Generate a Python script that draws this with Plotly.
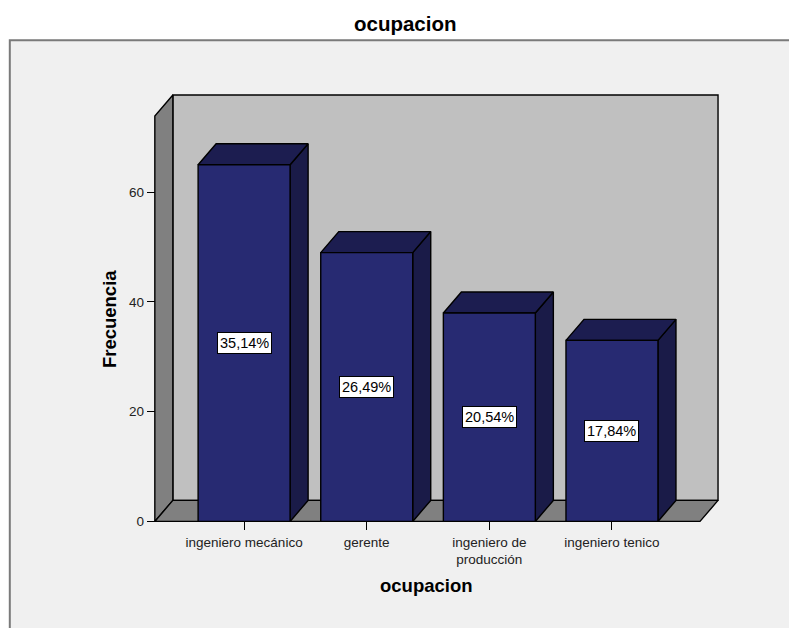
import plotly.graph_objects as go

# ---------------- data ----------------
categories = ["ingeniero mecánico", "gerente", "ingeniero de<br>producción", "ingeniero tenico"]
values = [65, 49, 38, 33]
y_ticks = [0, 20, 40, 60]

# ---------------- geometry / style constants ----------------
W, H = 789, 628
PX0, PY0 = 155, 521          # pixel of front-left corner of the 3D box (x=X_LEFT, y=0)
SX, SY = 122.6, 5.483        # pixels per category / per unit of value
X_LEFT, X_RIGHT = -0.728, 3.718
XMIN, XMAX = -0.80, 3.93
YMIN, YMAX = -1.2, 79.0
DX, DY = 0.147, 3.83         # depth offset
BW = 0.75
WALL_TOP = 73.9

pw = (XMAX - XMIN) * SX
ph = (YMAX - YMIN) * SY
ml = PX0 - (X_LEFT - XMIN) * SX
mb_px = PY0 + (0 - YMIN) * SY     # pixel of plot bottom
mt = mb_px - ph
mr = W - ml - pw
mb = H - mb_px


def px2paper(px, py):
    return (px - ml) / pw, (mb_px - py) / ph


C_BACK = "#c0c0c0"
C_WALL = "#808080"
C_FRONT = "#272a72"
C_TOP = "#1c1d50"
C_SIDE = "#1a1b48"
FONT = "Liberation Sans, Arial, sans-serif"

fig = go.Figure()


def poly(xs, ys, fill):
    fig.add_trace(go.Scatter(
        x=xs + [xs[0]], y=ys + [ys[0]], mode="lines", fill="toself",
        fillcolor=fill, line=dict(color="black", width=1.4),
        hoverinfo="skip", showlegend=False))


# back wall
poly([X_LEFT + DX, X_RIGHT + DX, X_RIGHT + DX, X_LEFT + DX],
     [DY, DY, WALL_TOP + DY, WALL_TOP + DY], C_BACK)
# left wall
poly([X_LEFT, X_LEFT + DX, X_LEFT + DX, X_LEFT],
     [0, DY, WALL_TOP + DY, WALL_TOP], C_WALL)
# floor
poly([X_LEFT, X_RIGHT, X_RIGHT + DX, X_LEFT + DX],
     [0, 0, DY, DY], C_WALL)

total = sum(values)
for i, v in enumerate(values):
    x0, x1 = i - BW / 2, i + BW / 2
    poly([x1, x1 + DX, x1 + DX, x1], [0, DY, v + DY, v], C_SIDE)
    poly([x0, x1, x1 + DX, x0 + DX], [v, v, v + DY, v + DY], C_TOP)
    poly([x0, x1, x1, x0], [0, 0, v, v], C_FRONT)
    pct = f"{v / total * 100:.2f}".replace(".", ",") + "%"
    fig.add_annotation(x=i, y=v / 2, xref="x", yref="y", text=pct, showarrow=False,
                       font=dict(family=FONT, size=14.5, color="black"),
                       bgcolor="white", bordercolor="black", borderwidth=1, borderpad=2)

# frame
fx0, fy0 = px2paper(10, 40)
fx1, fy1 = px2paper(820, 660)
fig.add_shape(type="rect", xref="paper", yref="paper", x0=fx0, y0=fy1, x1=fx1, y1=fy0,
              line=dict(color="#7a7a7a", width=2), fillcolor="#f0f0f0", layer="below")

# titles
tx, ty = px2paper(406, 23)
fig.add_annotation(x=tx, y=ty, xref="paper", yref="paper", text="<b>ocupacion</b>",
                   showarrow=False, font=dict(family=FONT, size=20.5, color="black"),
                   xanchor="center", yanchor="middle")
tx, ty = px2paper(427, 585)
fig.add_annotation(x=tx, y=ty, xref="paper", yref="paper", text="<b>ocupacion</b>",
                   showarrow=False, font=dict(family=FONT, size=18.5, color="black"),
                   xanchor="center", yanchor="middle")
tx, ty = px2paper(109, 319)
fig.add_annotation(x=tx, y=ty, xref="paper", yref="paper", text="<b>Frecuencia</b>",
                   showarrow=False, textangle=-90, font=dict(family=FONT, size=18.5, color="black"),
                   xanchor="center", yanchor="middle")

yax_pos, _ = px2paper(PX0, PY0)
_, xax_pos = px2paper(PX0, PY0)

fig.update_layout(
    width=W, height=H,
    margin=dict(l=ml, r=mr, t=mt, b=mb, pad=0),
    paper_bgcolor="white", plot_bgcolor="rgba(0,0,0,0)",
    showlegend=False,
    xaxis=dict(range=[XMIN, XMAX], tickmode="array", tickvals=list(range(len(categories))),
               ticktext=categories, ticks="outside", ticklen=8, tickwidth=1.4, tickcolor="black",
               showgrid=False, zeroline=False, showline=False, anchor="free", position=xax_pos,
               tickfont=dict(family=FONT, size=13.5, color="#222"), fixedrange=True),
    yaxis=dict(range=[YMIN, YMAX], tickmode="array", tickvals=y_ticks,
               ticks="outside", ticklen=8, tickwidth=1.4, tickcolor="black",
               showgrid=False, zeroline=False, showline=False, anchor="free", position=yax_pos,
               tickfont=dict(family=FONT, size=13.5, color="#222"), fixedrange=True),
)

fig.write_html("out.html")
